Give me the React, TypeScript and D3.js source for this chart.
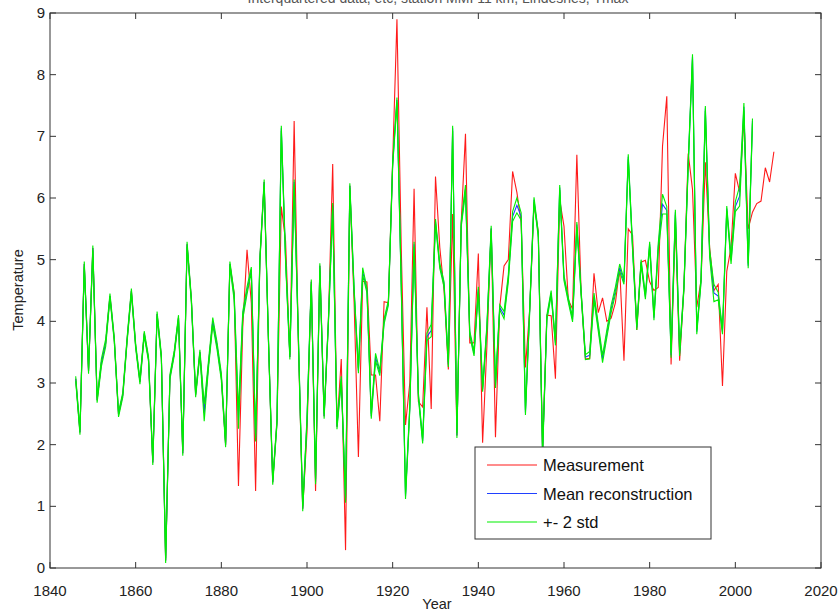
import React, { useEffect, useRef } from "react";
import * as d3 from "d3";

// yearly values 1846..2009 (measurement), reconstruction stops at 2004
const years = d3.range(1846, 2010);

const measurement = [
  3.07, 2.2, 4.93, 3.19,
  5.19, 2.72, 3.33, 3.65, 4.41, 3.71, 2.49, 2.81, 3.7, 4.49,
  3.6, 3.02, 3.8, 3.39, 1.71, 4.12, 3.42, 0.12, 3.1, 3.48,
  4.06, 1.86, 5.25, 4.35, 2.81, 3.5, 2.52, 3.3, 4.0, 3.6,
  3.1, 2.0, 4.93, 4.45, 1.33, 3.9, 5.16, 4.3, 1.25, 5.0,
  6.26, 3.7, 1.39, 2.38, 5.86, 5.3, 3.42, 7.25, 3.6, 0.96,
  2.2, 4.64, 1.25, 4.9, 2.46, 4.0, 6.55, 2.29, 3.39, 0.29,
  6.2, 4.3, 1.8, 4.65, 4.64, 3.13, 3.13, 2.38, 4.32, 4.3,
  6.6, 8.9, 5.2, 2.32, 3.0, 6.15, 2.7, 2.61, 4.23, 2.58,
  6.35, 5.2, 4.5, 3.22, 5.74, 2.15, 5.6, 7.04, 3.65, 3.65,
  5.1, 2.03, 3.6, 5.5, 2.12, 4.23, 4.9, 5.0, 6.43, 6.09,
  5.6, 3.25, 4.2, 5.9, 5.45, 1.9, 4.1, 4.09, 3.07, 5.97,
  5.54, 4.35, 4.2, 6.7, 4.46, 3.39, 3.4, 4.78, 4.14, 4.38,
  4.0, 4.05, 4.3, 4.87, 3.36, 5.5, 5.4, 3.86, 4.96, 4.99,
  4.64, 4.5, 4.55, 6.84, 7.65, 3.3, 5.6, 3.36, 4.55, 6.72,
  6.14, 4.23, 4.67, 6.58, 5.2, 4.5, 4.6, 2.95, 4.81, 5.2,
  6.4, 6.1, 7.3, 5.5, 5.77, 5.91, 5.95, 6.49, 6.26, 6.75,
];

const meanReconstruction = [
  3.07, 2.2, 4.93, 3.19,
  5.19, 2.72, 3.33, 3.65, 4.41, 3.71, 2.49, 2.81, 3.7, 4.49,
  3.6, 3.02, 3.8, 3.39, 1.71, 4.12, 3.42, 0.12, 3.1, 3.48,
  4.06, 1.86, 5.25, 4.35, 2.81, 3.5, 2.52, 3.3, 4.0, 3.6,
  3.1, 2.0, 4.93, 4.4, 2.4, 4.1, 4.5, 4.84, 2.09, 5.0,
  6.26, 3.7, 1.39, 2.38, 7.13, 5.0, 3.42, 6.26, 3.7, 0.96,
  2.4, 4.64, 1.4, 4.9, 2.46, 4.0, 5.88, 2.29, 3.07, 1.1,
  6.2, 4.5, 3.2, 4.81, 4.5, 2.46, 3.42, 3.16, 4.0, 4.3,
  6.55, 7.59, 4.6, 1.16, 2.6, 5.25, 2.8, 2.06, 3.75, 3.85,
  5.62, 4.9, 4.6, 3.3, 7.13, 2.15, 5.57, 6.15, 3.8, 3.48,
  4.52, 2.9, 3.9, 5.51, 2.96, 4.23, 4.1, 4.7, 5.7, 5.88,
  5.7, 2.52, 4.2, 5.97, 5.4, 1.85, 4.06, 4.46, 3.65, 6.17,
  4.7, 4.35, 4.03, 5.57, 4.46, 3.42, 3.45, 4.4, 3.9, 3.39,
  3.8, 4.2, 4.5, 4.87, 4.64, 6.67, 5.2, 3.9, 4.96, 4.4,
  5.25, 4.06, 5.2, 5.9, 5.8, 3.45, 5.77, 3.48, 4.55, 6.55,
  8.29, 3.83, 4.67, 7.45, 5.1, 4.46, 4.41, 3.83, 5.83, 4.99,
  5.86, 6.03, 7.48, 4.9, 7.25,
];

const stdDev = [
  0.02, 0.02, 0.02, 0.02,
  0.02, 0.02, 0.03, 0.03, 0.02, 0.02, 0.02, 0.02, 0.02, 0.02,
  0.02, 0.02, 0.02, 0.02, 0.02, 0.02, 0.02, 0.02, 0.02, 0.02,
  0.02, 0.02, 0.02, 0.02, 0.02, 0.02, 0.07, 0.03, 0.03, 0.03,
  0.03, 0.02, 0.02, 0.03, 0.07, 0.03, 0.03, 0.02, 0.02, 0.02,
  0.02, 0.02, 0.02, 0.02, 0.02, 0.02, 0.02, 0.02, 0.02, 0.02,
  0.02, 0.02, 0.02, 0.02, 0.02, 0.02, 0.02, 0.02, 0.02, 0.02,
  0.02, 0.02, 0.02, 0.03, 0.02, 0.02, 0.03, 0.02, 0.02, 0.02,
  0.02, 0.02, 0.02, 0.02, 0.02, 0.02, 0.02, 0.02, 0.03, 0.05,
  0.02, 0.02, 0.02, 0.02, 0.02, 0.02, 0.02, 0.03, 0.02, 0.02,
  0.02, 0.02, 0.02, 0.02, 0.02, 0.02, 0.03, 0.03, 0.04, 0.06,
  0.03, 0.02, 0.02, 0.02, 0.02, 0.02, 0.02, 0.02, 0.02, 0.02,
  0.02, 0.02, 0.02, 0.02, 0.02, 0.02, 0.03, 0.03, 0.03, 0.03,
  0.03, 0.03, 0.03, 0.03, 0.02, 0.02, 0.02, 0.02, 0.02, 0.02,
  0.02, 0.02, 0.03, 0.08, 0.03, 0.02, 0.02, 0.02, 0.02, 0.02,
  0.02, 0.02, 0.02, 0.02, 0.03, 0.07, 0.03, 0.02, 0.02, 0.03,
  0.04, 0.08, 0.03, 0.02, 0.02,
];

const xTicks = [1840, 1860, 1880, 1900, 1920, 1940, 1960, 1980, 2000, 2020];
const yTicks = [0, 1, 2, 3, 4, 5, 6, 7, 8, 9];

const legendItems = [
  { label: "Measurement", color: "#ff1a1a" },
  { label: "Mean reconstruction", color: "#2040ff" },
  { label: "+- 2 std", color: "#00f000" },
];

const font = "'Liberation Sans', Arial, Helvetica, sans-serif";

export default function App() {
  const svgRef = useRef<SVGSVGElement>(null);

  useEffect(() => {
    const width = 840, height = 611;
    const left = 50, right = 821, top = 13, bottom = 568;

    const svg = d3.select(svgRef.current);
    svg.selectAll("*").remove();
    svg.attr("width", width).attr("height", height);

    svg.append("rect").attr("width", width).attr("height", height).attr("fill", "#fff");

    const x = d3.scaleLinear().domain([1840, 2020]).range([left, right]);
    const y = d3.scaleLinear().domain([0, 9]).range([bottom, top]);

    // title, mostly cut off by the top edge like in the original figure
    svg.append("text")
      .attr("x", 438).attr("y", 3)
      .attr("text-anchor", "middle")
      .style("font-family", font).style("font-size", "14px")
      .attr("fill", "#555")
      .text("Interquartered data, etc, station MMI 11 km, Lindesnes, Tmax");

    const line = d3.line<number>()
      .x((d, i) => x(years[i]))
      .y(d => y(d));

    const upper = meanReconstruction.map((m, i) => m + 2 * stdDev[i]);
    const lower = meanReconstruction.map((m, i) => m - 2 * stdDev[i]);

    const plot = svg.append("g");
    plot.append("path").datum(measurement).attr("d", line)
      .attr("fill", "none").attr("stroke", legendItems[0].color).attr("stroke-width", 1.1);
    plot.append("path").datum(meanReconstruction).attr("d", line)
      .attr("fill", "none").attr("stroke", legendItems[1].color).attr("stroke-width", 1.1);
    [upper, lower].forEach(s => {
      plot.append("path").datum(s).attr("d", line)
        .attr("fill", "none").attr("stroke", legendItems[2].color).attr("stroke-width", 1.1);
    });

    // box + inward ticks
    const axisColor = "#333";
    svg.append("rect")
      .attr("x", left).attr("y", top)
      .attr("width", right - left).attr("height", bottom - top)
      .attr("fill", "none").attr("stroke", axisColor).attr("stroke-width", 1);

    const tickLen = 6;
    xTicks.forEach(t => {
      svg.append("line").attr("x1", x(t)).attr("x2", x(t))
        .attr("y1", bottom).attr("y2", bottom - tickLen).attr("stroke", axisColor);
      svg.append("line").attr("x1", x(t)).attr("x2", x(t))
        .attr("y1", top).attr("y2", top + tickLen).attr("stroke", axisColor);
      svg.append("text")
        .attr("x", x(t)).attr("y", 596)
        .attr("text-anchor", "middle")
        .style("font-family", font).style("font-size", "15px")
        .attr("fill", "#222")
        .text(t);
    });
    yTicks.forEach(t => {
      svg.append("line").attr("x1", left).attr("x2", left + tickLen)
        .attr("y1", y(t)).attr("y2", y(t)).attr("stroke", axisColor);
      svg.append("line").attr("x1", right).attr("x2", right - tickLen)
        .attr("y1", y(t)).attr("y2", y(t)).attr("stroke", axisColor);
      svg.append("text")
        .attr("x", left - 5).attr("y", y(t) + 5)
        .attr("text-anchor", "end")
        .style("font-family", font).style("font-size", "15px")
        .attr("fill", "#222")
        .text(t);
    });

    svg.append("text")
      .attr("x", 437).attr("y", 609)
      .attr("text-anchor", "middle")
      .style("font-family", font).style("font-size", "14.5px")
      .attr("fill", "#222")
      .text("Year");

    svg.append("text")
      .attr("transform", "translate(23, 290) rotate(-90)")
      .attr("text-anchor", "middle")
      .style("font-family", font).style("font-size", "14.5px")
      .attr("fill", "#222")
      .text("Temperature");

    // legend
    const legend = svg.append("g").attr("transform", "translate(475, 447)");
    legend.append("rect")
      .attr("width", 236).attr("height", 92)
      .attr("fill", "#fff").attr("stroke", axisColor);
    legendItems.forEach((d, i) => {
      const ly = 18 + i * 28.5;
      legend.append("line")
        .attr("x1", 12).attr("x2", 62).attr("y1", ly).attr("y2", ly)
        .attr("stroke", d.color).attr("stroke-width", 1.2);
      legend.append("text")
        .attr("x", 68).attr("y", ly + 6)
        .style("font-family", font).style("font-size", "16.5px")
        .attr("fill", "#111")
        .text(d.label);
    });
  }, []);

  return (
    <svg ref={svgRef} style={{ position: "fixed", left: 0, top: 0, display: "block" }}></svg>
  );
}
